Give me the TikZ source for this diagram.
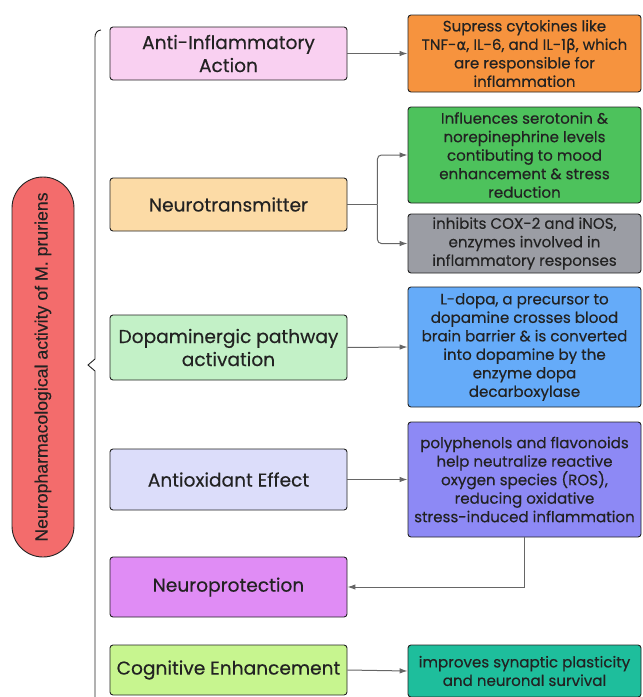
\documentclass[tikz,border=0pt]{standalone}
\usepackage{fontspec}
\setmainfont{Poppins}[FakeBold=0.35]
\newfontfamily\greekfont{DejaVu Sans}[FakeBold=0.35]
\newfontfamily\pillfont{Liberation Sans}[FakeBold=0.25]
\usetikzlibrary{arrows.meta}

\definecolor{pinkbox}{HTML}{F9D0F1}
\definecolor{orangebox}{HTML}{F6933E}
\definecolor{peachbox}{HTML}{FCDBA6}
\definecolor{greenbox}{HTML}{4DC25C}
\definecolor{graybox}{HTML}{9B9DA4}
\definecolor{mintbox}{HTML}{C3F1C7}
\definecolor{bluebox}{HTML}{65ABF9}
\definecolor{lavbox}{HTML}{DCDDFA}
\definecolor{purplebox}{HTML}{8D89F5}
\definecolor{violetbox}{HTML}{E08CF5}
\definecolor{limebox}{HTML}{C7F58F}
\definecolor{tealbox}{HTML}{1EBE9C}
\definecolor{redpill}{HTML}{F36C6C}
\definecolor{inkgray}{HTML}{222222}

\begin{document}
\begin{tikzpicture}[x=1pt, y=-1pt,
	effect/.style={draw=inkgray, line width=0.9pt, rounded corners=3pt, align=center,
		inner sep=1pt, minimum width=237pt, text=inkgray,
		font=\fontsize{18.6}{23}\selectfont},
	detail/.style={draw=inkgray, line width=0.9pt, rounded corners=3pt, align=center,
		inner sep=1pt, minimum width=233pt, text=inkgray,
		font=\fontsize{15.1}{18.5}\selectfont},
	link/.style={draw=gray!80!black, line width=1pt, -{Latex[length=8pt, width=5.5pt]}}]
	\useasboundingbox (0,0) rectangle (643,697);

	% main topic
	\node[draw=inkgray, line width=0.9pt, fill=redpill, rotate=90, rounded corners=31pt,
		minimum width=380pt, minimum height=62pt, inner sep=0pt,
		font=\pillfont\fontsize{17.7}{19}\selectfont, text=inkgray] (activity) at (43,367)
		{Neuropharmacological activity of M. pruriens};

	% brace
	\draw[line width=0.9pt, inkgray] (101,30) to[out=180, in=90] (95,37) -- (95,359)
		-- (88,365) -- (95,371) -- (95,697);

	% effects
	\node[effect, fill=pinkbox, minimum height=53pt] (antiinf) at (228.5,53.5) {Anti-Inflammatory\\Action};
	\node[effect, fill=peachbox, minimum height=53pt] (neurotx) at (228.5,204.5) {Neurotransmitter};
	\node[effect, fill=mintbox, minimum height=65pt] (dopa) at (228.5,347.5) {Dopaminergic pathway\\activation};
	\node[effect, fill=lavbox, minimum height=61pt] (antiox) at (228.5,479.5) {Antioxidant Effect};
	\node[effect, fill=violetbox, minimum height=60pt] (neuroprot) at (228.5,587) {Neuroprotection};
	\node[effect, fill=limebox, minimum height=50pt] (cognitive) at (228.5,670) {Cognitive Enhancement};

	% details
	\node[detail, fill=orangebox, minimum height=77pt] (cytok) at (524.5,53.5)
		{Supress cytokines like\\TNF-{\greekfont α}, IL-6, and IL-1{\greekfont β}, which\\are responsible for\\inflammation};
	\node[detail, fill=greenbox, minimum height=96pt] (sero) at (524.5,155)
		{Influences serotonin \&\\norepinephrine levels\\contibuting to mood\\enhancement \& stress\\reduction};
	\node[detail, fill=graybox, minimum height=59pt] (cox) at (524.5,243.5)
		{inhibits COX-2 and iNOS,\\enzymes involved in\\inflammatory responses};
	\node[detail, fill=bluebox, minimum height=120pt] (ldopa) at (524.5,347)
		{L-dopa, a precursor to\\dopamine crosses blood\\brain barrier \& is converted\\into dopamine by the\\enzyme dopa\\decarboxylase};
	\node[detail, fill=purplebox, minimum height=115pt] (polyph) at (524.5,479.5)
		{polyphenols and flavonoids\\help neutralize reactive\\oxygen species (ROS),\\reducing oxidative\\stress-induced inflammation};
	\node[detail, fill=tealbox, minimum height=52pt] (synap) at (524.5,671)
		{improves synaptic plasticity\\and neuronal survival};

	% links
	\draw[link] (antiinf.east) -- (cytok.west);
	\draw[draw=gray!80!black, line width=1pt] (neurotx.east) -- ++(30,0) coordinate (fork);
	\draw[link, rounded corners=4pt] (fork) |- (sero.west);
	\draw[link, rounded corners=4pt] (fork) |- (cox.west);
	\draw[link] (dopa.east) -- (ldopa.west);
	\draw[link] (antiox.east) -- (polyph.west);
	\draw[link] (polyph.south) |- (neuroprot.east);
	\draw[link] (cognitive.east) -- (synap.west);
\end{tikzpicture}
\end{document}
